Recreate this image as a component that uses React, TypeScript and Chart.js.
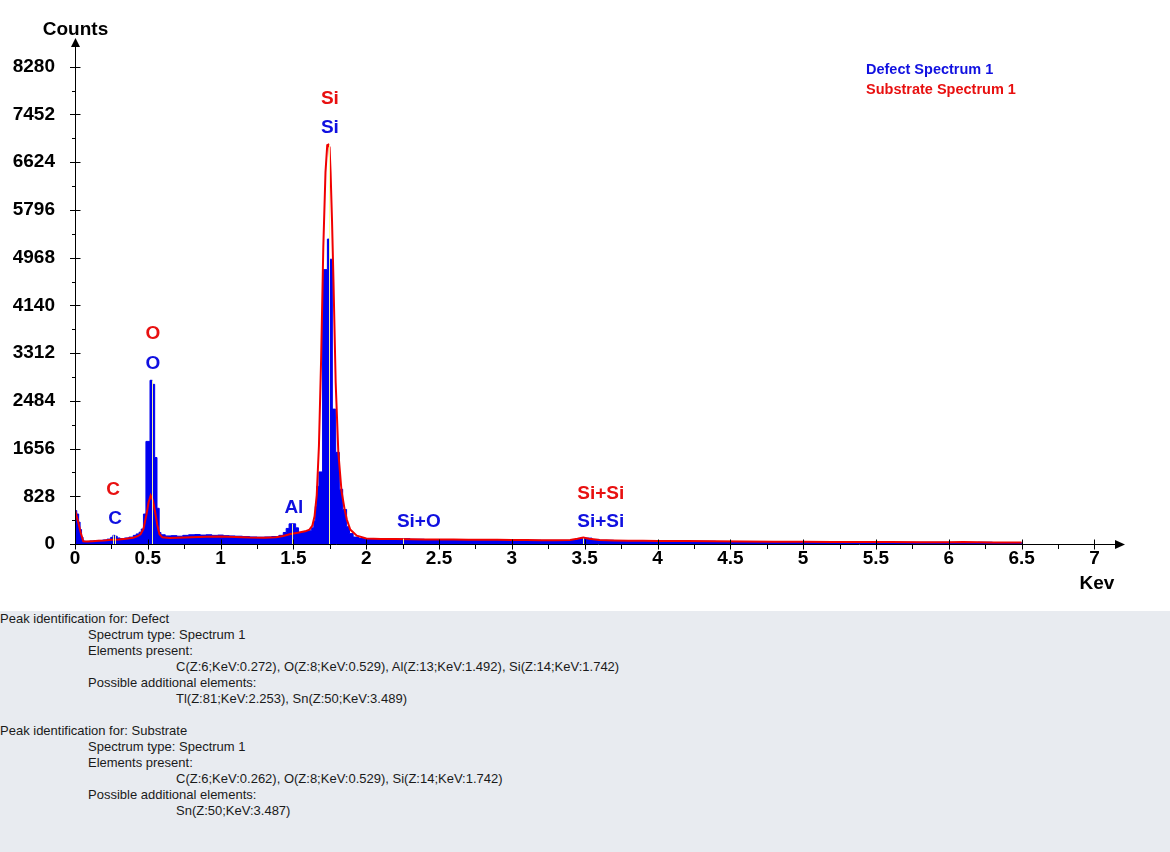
import React, { useEffect, useRef } from "react";
import { Chart, registerables } from "chart.js";

Chart.register(...registerables);

// defect spectrum, histogram bins (bin start keV -> counts)
const defectKeV = [
  0, 0.012, 0.025, 0.035, 0.045, 0.055, 0.07, 0.1, 0.13, 0.16, 0.19, 0.22, 0.245, 0.26, 0.275, 0.29, 0.31, 0.34, 0.37,
  0.4, 0.42, 0.44, 0.455, 0.47, 0.487, 0.515, 0.531, 0.547, 0.563, 0.578, 0.59, 0.62, 0.66, 0.7, 0.74, 0.78, 0.82,
  0.86, 0.9, 0.94, 0.98, 1.02, 1.06, 1.1, 1.15, 1.2, 1.25, 1.3, 1.35, 1.4, 1.43, 1.45, 1.47, 1.515, 1.535, 1.56,
  1.59, 1.625, 1.64, 1.65, 1.66, 1.675, 1.7, 1.733, 1.745, 1.767, 1.79, 1.815, 1.838, 1.865, 1.885, 1.91, 1.95,
  2.0, 2.1, 2.2, 2.25, 2.3, 2.4, 2.5, 2.6, 2.7, 2.8, 2.9, 3.0, 3.1, 3.2, 3.3, 3.4, 3.45, 3.5, 3.55, 3.6, 3.7, 3.8,
  3.9, 4.0, 4.2, 4.4, 4.6, 4.8, 5.0, 5.2, 5.4, 5.6, 5.8, 6.0, 6.2, 6.3, 6.4, 6.5,
];
const defectCounts = [
  580, 520, 380, 250, 120, 50, 45, 52, 58, 62, 70, 85, 115, 150, 135, 105, 95, 105, 120,
  150, 175, 205, 260, 520, 1780, 2840, 2770, 1500, 620, 200, 160, 140, 145, 135, 150, 160, 165,
  155, 160, 150, 155, 145, 140, 135, 128, 122, 118, 122, 130, 150, 200, 270, 350, 280, 200, 210,
  230, 280, 400, 650, 1000, 1250, 4760, 5290, 4940, 2340, 1590, 950, 600, 300, 180, 120, 95,
  88, 84, 86, 92, 82, 78, 76, 73, 71, 72, 69, 67, 65, 63, 63, 68, 92, 102, 80, 64, 58, 55,
  53, 51, 47, 43, 40, 38, 36, 34, 33, 31, 30, 28, 31, 26, 24, 0,
];

// substrate spectrum, line
const substrateKeV = [
  0, 0.02, 0.04, 0.057, 0.08, 0.12, 0.16, 0.2, 0.25, 0.3, 0.35, 0.4, 0.43, 0.45, 0.47, 0.49, 0.505, 0.52, 0.535,
  0.55, 0.565, 0.58, 0.6, 0.65, 0.7, 0.8, 0.9, 1.0, 1.1, 1.2, 1.3, 1.38, 1.43, 1.48, 1.53, 1.58, 1.61, 1.63, 1.645,
  1.66, 1.675, 1.69, 1.705, 1.72, 1.732, 1.74, 1.748, 1.755, 1.765, 1.775, 1.79, 1.808, 1.83, 1.85, 1.866, 1.89,
  1.935, 2.0, 2.1, 2.2, 2.3, 2.4, 2.5, 2.6, 2.7, 2.8, 2.9, 3.0, 3.1, 3.2, 3.3, 3.4, 3.45, 3.49, 3.53, 3.6, 3.7, 3.8,
  3.9, 4.0, 4.2, 4.4, 4.6, 4.8, 5.0, 5.2, 5.4, 5.6, 5.8, 6.0, 6.1, 6.2, 6.3, 6.4, 6.5,
];
const substrateCounts = [
  590, 400, 190, 45, 42, 48, 55, 62, 75, 80, 92, 110, 135, 170, 260, 500, 720, 840, 760,
  560, 330, 170, 115, 105, 110, 118, 125, 128, 122, 112, 110, 118, 140, 175, 195, 220, 250, 320, 480,
  850, 1700, 3200, 5150, 6450, 6920, 6930, 6880, 6450, 5600, 4550, 2800, 1600, 920, 620, 430, 250,
  145, 95, 88, 85, 82, 80, 78, 76, 74, 75, 72, 70, 68, 66, 66, 70, 90, 112, 92, 68, 62, 58,
  56, 54, 50, 46, 43, 40, 38, 36, 35, 33, 32, 30, 34, 29, 27, 26, 24,
];

const xTickValues = [0, 0.5, 1, 1.5, 2, 2.5, 3, 3.5, 4, 4.5, 5, 5.5, 6, 6.5, 7];
const yTickValues = [0, 828, 1656, 2484, 3312, 4140, 4968, 5796, 6624, 7452, 8280];

// peak labels (text centre in keV / counts)
const defectPeakNames = ["C", "O", "Al", "Si", "Si+O", "Si+Si"];
const defectPeakKeV = [0.275, 0.535, 1.503, 1.75, 2.361, 3.61];
const defectPeakCounts = [434, 3123, 625, 7218, 382, 382];
const substratePeakNames = ["C", "O", "Si", "Si+Si"];
const substratePeakKeV = [0.261, 0.535, 1.75, 3.61];
const substratePeakCounts = [937, 3644, 7721, 868];

// identified line energies
const markerKeV = [0.262, 0.272, 0.529, 1.492, 1.742, 2.253, 3.487, 3.489];

const seriesNames = ["Defect Spectrum 1", "Substrate Spectrum 1"];

const reportLines: [number, string][] = [
  [0, "Peak identification for: Defect"],
  [1, "Spectrum type: Spectrum 1"],
  [1, "Elements present:"],
  [2, "C(Z:6;KeV:0.272), O(Z:8;KeV:0.529), Al(Z:13;KeV:1.492), Si(Z:14;KeV:1.742)"],
  [1, "Possible additional elements:"],
  [2, "Tl(Z:81;KeV:2.253), Sn(Z:50;KeV:3.489)"],
  [0, ""],
  [0, "Peak identification for: Substrate"],
  [1, "Spectrum type: Spectrum 1"],
  [1, "Elements present:"],
  [2, "C(Z:6;KeV:0.262), O(Z:8;KeV:0.529), Si(Z:14;KeV:1.742)"],
  [1, "Possible additional elements:"],
  [2, "Sn(Z:50;KeV:3.487)"],
];

const BLUE = "#0000f0";
const RED = "#f00000";
const FONT = "'Liberation Sans', Arial, sans-serif";

const stepValue = (xs: number[], ys: number[], e: number) => {
  let v = 0;
  for (let i = 0; i < xs.length; i++) if (xs[i] <= e) v = ys[i];
  return v;
};

const decor = {
  id: "decor",
  afterDatasetsDraw(chart: any) {
    const { ctx, scales } = chart;
    const xs = scales.x, ys = scales.y;
    ctx.save();
    ctx.strokeStyle = "rgba(255,255,150,0.95)";
    ctx.lineWidth = 1;
    markerKeV.forEach((e) => {
      const top = Math.max(stepValue(defectKeV, defectCounts, e), stepValue(substrateKeV, substrateCounts, e));
      const px = Math.round(xs.getPixelForValue(e)) + 0.5;
      ctx.beginPath();
      ctx.moveTo(px, ys.getPixelForValue(0));
      ctx.lineTo(px, ys.getPixelForValue(top));
      ctx.stroke();
    });
    ctx.restore();
  },
  afterDraw(chart: any) {
    const { ctx, chartArea, scales } = chart;
    const xs = scales.x, ys = scales.y;
    const ax = chartArea.left + 0.5;
    const ay = Math.round(ys.getPixelForValue(0)) + 0.5;
    const T = chartArea.top, R = chartArea.right;
    ctx.save();
    ctx.strokeStyle = "#000";
    ctx.fillStyle = "#000";
    ctx.lineWidth = 1;
    const line = (x1: number, y1: number, x2: number, y2: number) => {
      ctx.beginPath();
      ctx.moveTo(x1, y1);
      ctx.lineTo(x2, y2);
      ctx.stroke();
    };
    line(ax, ay, ax, T + 4);
    line(ax, ay, R - 4, ay);
    ctx.beginPath();
    ctx.moveTo(ax, T - 2);
    ctx.lineTo(ax - 4.5, T + 7);
    ctx.lineTo(ax + 4.5, T + 7);
    ctx.closePath();
    ctx.fill();
    ctx.beginPath();
    ctx.moveTo(R, ay);
    ctx.lineTo(R - 10, ay - 4.5);
    ctx.lineTo(R - 10, ay + 4.5);
    ctx.closePath();
    ctx.fill();

    yTickValues.forEach((v, i) => {
      const py = Math.round(ys.getPixelForValue(v)) + 0.5;
      line(ax - 5.5, py, ax + 5, py);
      if (i < yTickValues.length - 1) {
        const pm = Math.round(ys.getPixelForValue((v + yTickValues[i + 1]) / 2)) + 0.5;
        line(ax - 3.5, pm, ax, pm);
      }
    });
    xTickValues.forEach((v, i) => {
      const px = Math.round(xs.getPixelForValue(v)) + 0.5;
      line(px, ay - 5, px, ay + 5);
      if (i < xTickValues.length - 1) {
        const pm = Math.round(xs.getPixelForValue((v + xTickValues[i + 1]) / 2)) + 0.5;
        line(pm, ay, pm, ay + 4.5);
      }
    });

    ctx.textBaseline = "middle";
    ctx.textAlign = "center";
    ctx.font = `bold 19px ${FONT}`;
    ctx.fillText("Counts", ax, 30);
    ctx.fillText("Kev", 1097, 584);

    defectPeakNames.forEach((n, i) => {
      ctx.fillStyle = "#1010e0";
      ctx.fillText(n, xs.getPixelForValue(defectPeakKeV[i]), ys.getPixelForValue(defectPeakCounts[i]));
    });
    substratePeakNames.forEach((n, i) => {
      ctx.fillStyle = "#e81010";
      ctx.fillText(n, xs.getPixelForValue(substratePeakKeV[i]), ys.getPixelForValue(substratePeakCounts[i]));
    });

    ctx.textAlign = "left";
    ctx.font = `bold 14.5px ${FONT}`;
    ctx.fillStyle = "#1010e0";
    ctx.fillText(seriesNames[0], 866, 70);
    ctx.fillStyle = "#e81010";
    ctx.fillText(seriesNames[1], 866, 90);
    ctx.restore();
  },
};

const App: React.FC = () => {
  const chartRef = useRef<HTMLCanvasElement>(null);

  useEffect(() => {
    if (!chartRef.current) return;
    const tickFont = { family: FONT, size: 19, weight: "bold" as const };
    const chart = new Chart(chartRef.current, {
      type: "line",
      data: {
        datasets: [
          {
            label: seriesNames[1],
            data: substrateKeV.map((x, i) => ({ x, y: substrateCounts[i] })),
            borderColor: RED,
            borderWidth: 2,
            pointRadius: 0,
            tension: 0,
            fill: false,
            order: 0,
          },
          {
            label: seriesNames[0],
            data: defectKeV.map((x, i) => ({ x, y: defectCounts[i] })),
            borderColor: BLUE,
            backgroundColor: BLUE,
            borderWidth: 1,
            pointRadius: 0,
            stepped: true,
            fill: "origin",
            order: 1,
          },
        ],
      },
      options: {
        animation: false,
        responsive: true,
        maintainAspectRatio: false,
        layout: { padding: { top: 40, right: 45, left: 0, bottom: 0 } },
        plugins: { legend: { display: false }, tooltip: { enabled: false } },
        scales: {
          x: {
            type: "linear",
            min: 0,
            max: 7.21,
            grid: { display: false, drawTicks: false },
            border: { display: false },
            afterBuildTicks: (s: any) => {
              s.ticks = xTickValues.map((value) => ({ value }));
            },
            afterFit: (s: any) => {
              s.height = 67;
            },
            ticks: {
              autoSkip: false,
              maxRotation: 0,
              padding: 3,
              color: "#000",
              font: tickFont,
              callback: (v: any) => String(v),
            },
          },
          y: {
            type: "linear",
            min: 0,
            max: 8744,
            grid: { display: false, drawTicks: false },
            border: { display: false },
            afterBuildTicks: (s: any) => {
              s.ticks = yTickValues.map((value) => ({ value }));
            },
            afterFit: (s: any) => {
              s.width = 75;
            },
            ticks: {
              padding: 20,
              color: "#000",
              font: tickFont,
              callback: (v: any) => String(v),
            },
          },
        },
      },
      plugins: [decor],
    });
    return () => chart.destroy();
  }, []);

  return (
    <div style={{ position: "absolute", left: 0, top: 0, width: 1170, height: 852, background: "#fff" }}>
      <div style={{ position: "relative", width: 1170, height: 611 }}>
        <canvas ref={chartRef} />
      </div>
      <div
        style={{
          height: 241,
          background: "#e8ebf0",
          fontFamily: FONT,
          fontSize: 13,
          color: "#1a1a1a",
          lineHeight: "16px",
        }}
      >
        {reportLines.map(([lvl, t], i) => (
          <div key={i} style={{ paddingLeft: lvl * 88, height: 16, whiteSpace: "nowrap" }}>
            {t}
          </div>
        ))}
      </div>
    </div>
  );
};

export default App;
